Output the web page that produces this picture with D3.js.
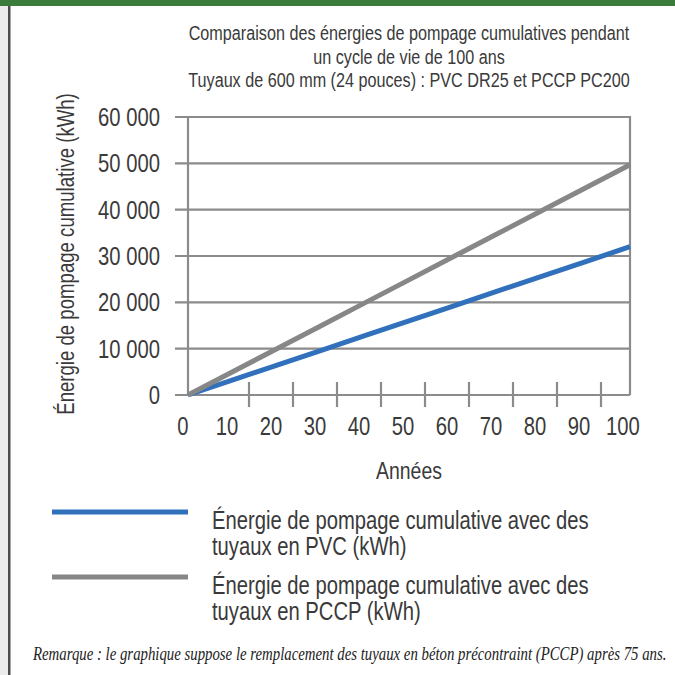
<!DOCTYPE html>
<html>
<head>
<meta charset="utf-8">
<script src="https://cdn.jsdelivr.net/npm/d3@7"></script>
<style>
  html, body { margin: 0; padding: 0; background: #fff; }
  svg { display: block; }
  .sans { font-family: "Liberation Sans", Arial, sans-serif; fill: #3a3a3a; }
</style>
</head>
<body>
<svg id="chart" width="675" height="675"></svg>
<script>
// ---- data ----
const years = [0, 10, 20, 30, 40, 50, 60, 70, 80, 90, 100];
const pvcEnergy = [0, 3200, 6400, 9600, 12800, 16000, 19200, 22400, 25600, 28800, 32000];
const pccpEnergy = [0, 4970, 9940, 14910, 19880, 24850, 29820, 34790, 39760, 44730, 49700];
const yTicks = [0, 10000, 20000, 30000, 40000, 50000, 60000];
const xTickLabels = ["0", "10", "20", "30", "40", "50", "60", "70", "80", "90", "100"];
const titleLines = [
  "Comparaison des énergies de pompage cumulatives pendant",
  "un cycle de vie de 100 ans",
  "Tuyaux de 600 mm (24 pouces) : PVC DR25 et PCCP PC200"
];
const yTitle = "Énergie de pompage cumulative (kWh)";
const xTitle = "Années";
const seriesNames = [
  ["Énergie de pompage cumulative avec des", "tuyaux en PVC (kWh)"],
  ["Énergie de pompage cumulative avec des", "tuyaux en PCCP (kWh)"]
];
const note = "Remarque : le graphique suppose le remplacement des tuyaux en béton précontraint (PCCP) après 75 ans.";

// ---- layout ----
const svg = d3.select("#chart");
const W = 675, H = 675;
const plot = { left: 188, right: 630, top: 117, bottom: 395 };
const gridColor = "#8b8b8b";
const colors = ["#3170bb", "#878787"];

// condensed look: measure in the regular font, squeeze horizontally
function measure(txt, size, cls, style) {
  const t = svg.append("text").attr("class", cls || "sans").attr("font-size", size)
    .attr("font-style", style || "normal").text(txt);
  const w = t.node().getComputedTextLength();
  t.remove();
  return w;
}
const R = 441 / measure(titleLines[0], 20);
const RT = 441 / measure(titleLines[0], 21);

function ctext(parent, txt, x, y, size, anchor, rot, r) {
  return parent.append("text")
    .attr("class", "sans")
    .attr("transform", `translate(${x},${y})${rot ? ` rotate(${rot})` : ""} scale(${r || R},1)`)
    .attr("text-anchor", anchor || "start")
    .attr("font-size", size)
    .text(txt);
}

// frame
svg.append("rect").attr("x", 0).attr("y", 0).attr("width", W).attr("height", H).attr("fill", "#fff");
svg.append("rect").attr("x", 0).attr("y", 0).attr("width", 8).attr("height", H).attr("fill", "#ececec");
svg.append("rect").attr("x", 8).attr("y", 0).attr("width", 2.5).attr("height", H).attr("fill", "#4d4d4d");
svg.append("rect").attr("x", 0).attr("y", 0).attr("width", W).attr("height", 6).attr("fill", "#3b7b3b");

const x = d3.scaleLinear().domain([0, 100]).range([plot.left, plot.right]);
const y = d3.scaleLinear().domain([0, 60000]).range([plot.bottom, plot.top]);
const xLab = d3.scalePoint().domain(xTickLabels).range([183, 623]);

// title
const cx = (plot.left + plot.right) / 2;
const tg = svg.append("g");
titleLines.forEach((t, i) => ctext(tg, t, cx, 40 + i * 23.5, 21, "middle", 0, RT));

// horizontal gridlines + y tick marks
const g = svg.append("g");
g.selectAll("line.grid").data(yTicks).join("line")
  .attr("class", "grid")
  .attr("x1", plot.left - 13).attr("x2", plot.right)
  .attr("y1", d => y(d)).attr("y2", d => y(d))
  .attr("stroke", gridColor).attr("stroke-width", 2.2);

// plot border (left, top, right)
g.append("path")
  .attr("d", `M${plot.left},${plot.bottom}V${plot.top}H${plot.right}V${plot.bottom}`)
  .attr("fill", "none").attr("stroke", gridColor).attr("stroke-width", 2.2);

// x tick marks (between category labels)
const xl = xTickLabels.slice(1, -1);
g.selectAll("line.xtick").data(xl).join("line")
  .attr("class", "xtick")
  .attr("x1", (d, i) => (xLab(xTickLabels[i + 1]) + xLab(xTickLabels[i + 2])) / 2)
  .attr("x2", (d, i) => (xLab(xTickLabels[i + 1]) + xLab(xTickLabels[i + 2])) / 2)
  .attr("y1", plot.bottom - 13).attr("y2", plot.bottom + 12)
  .attr("stroke", gridColor).attr("stroke-width", 2.2);

// y tick labels
const yg = svg.append("g");
yTicks.forEach(d => ctext(yg, d3.format(",")(d).replace(/,/g, " "), 160, y(d) + 9, 25, "end"));

// x tick labels
const xg = svg.append("g");
xTickLabels.forEach(d => ctext(xg, d, xLab(d), 435, 25, "middle"));

// axis titles
ctext(svg, yTitle, 74, 254, 23, "middle", -90);
ctext(svg, xTitle, cx, 479, 24, "middle");

// series
const series = [pvcEnergy, pccpEnergy];
const line = d3.line().x((d, i) => x(years[i])).y(d => y(d));
svg.append("g").selectAll("path").data(series).join("path")
  .attr("d", d => line(d))
  .attr("fill", "none")
  .attr("stroke", (d, i) => colors[i])
  .attr("stroke-width", 5);

// legend
const leg = svg.append("g");
const legY = [512, 577];
seriesNames.forEach((lines, i) => {
  leg.append("line")
    .attr("x1", 52).attr("x2", 188)
    .attr("y1", legY[i]).attr("y2", legY[i])
    .attr("stroke", colors[i]).attr("stroke-width", 5);
  lines.forEach((t, j) => ctext(leg, t, 212, legY[i] + 17 + j * 26, 25, "start"));
});

// note (condensed serif italic)
const noteSize = 18;
const noteFont = "'Liberation Serif', 'DejaVu Serif', serif";
const nt = svg.append("text")
  .attr("font-family", noteFont)
  .attr("font-style", "italic")
  .attr("font-size", noteSize)
  .attr("fill", "#222")
  .text(note);
const noteW = nt.node().getComputedTextLength();
nt.attr("transform", `translate(33,660) scale(${634 / noteW},1)`);
</script>
</body>
</html>
